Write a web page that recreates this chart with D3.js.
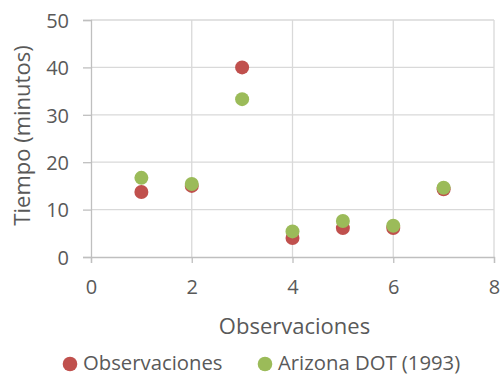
<!DOCTYPE html>
<html>
<head>
<meta charset="utf-8">
<script src="https://cdn.jsdelivr.net/npm/d3@7"></script>
<style>
  html, body { margin: 0; padding: 0; background: #fff; }
  svg text { font-family: "Open Sans", "Liberation Sans", sans-serif; fill: #595959; }
</style>
</head>
<body>
<svg id="chart" width="502" height="375"></svg>
<script>
// Travel time per observation: field observations vs. Arizona DOT (1993) estimate
const observations = [1, 2, 3, 4, 5, 6, 7];
const observedTimes = [13.7, 15.0, 40.0, 4.0, 6.1, 6.1, 14.3];
const arizonaTimes = [16.7, 15.4, 33.3, 5.4, 7.6, 6.6, 14.6];
const xTicks = [0, 2, 4, 6, 8];
const yTicks = [0, 10, 20, 30, 40, 50];
const seriesNames = ["Observaciones", "Arizona DOT (1993)"];
const seriesColors = ["#c0504d", "#9bbb59"];

const svg = d3.select("#chart");
const margin = { left: 91, right: 8, top: 20, bottom: 118 };
const W = 502, H = 375;

const x = d3.scaleLinear().domain([0, 8]).range([margin.left, W - margin.right]);
const y = d3.scaleLinear().domain([0, 50]).range([H - margin.bottom, margin.top]);

// Grid
const grid = svg.append("g");
grid.selectAll("line.h").data(yTicks.filter(d => d > 0)).join("line")
  .attr("x1", x(0)).attr("x2", x(8))
  .attr("y1", d => y(d)).attr("y2", d => y(d))
  .attr("stroke", "#d9d9d9").attr("stroke-width", 1.3);
grid.selectAll("line.v").data(xTicks.filter(d => d > 0)).join("line")
  .attr("y1", y(0)).attr("y2", y(50))
  .attr("x1", d => x(d)).attr("x2", d => x(d))
  .attr("stroke", "#d9d9d9").attr("stroke-width", 1.3);

// Axes
const xAxis = svg.append("g").attr("transform", `translate(0,${y(0)})`)
  .call(d3.axisBottom(x).tickValues(xTicks).tickSize(6).tickPadding(17).tickFormat(d3.format("d")));
const yAxis = svg.append("g").attr("transform", `translate(${x(0)},0)`)
  .call(d3.axisLeft(y).tickValues(yTicks).tickSize(8).tickPadding(14).tickFormat(d3.format("d")));
[xAxis, yAxis].forEach(a => {
  a.select(".domain").attr("stroke", "#bfbfbf").attr("stroke-width", 1.3);
  a.selectAll(".tick line").attr("stroke", "#bfbfbf").attr("stroke-width", 1.3);
  a.selectAll(".tick text").attr("font-size", 20).attr("fill", "#595959")
    .style("font-family", "'Open Sans', sans-serif");
});
yAxis.selectAll(".tick text").attr("dy", "0.36em");

// Points: Arizona DOT drawn over observations
const series = [observedTimes, arizonaTimes];
series.forEach((vals, i) => {
  svg.append("g").selectAll("circle").data(vals).join("circle")
    .attr("cx", (d, j) => x(observations[j]))
    .attr("cy", d => y(d))
    .attr("r", 7)
    .attr("fill", seriesColors[i]);
});

// Axis titles
svg.append("text")
  .attr("x", (x(0) + x(8)) / 2 + 2).attr("y", 334)
  .attr("text-anchor", "middle").attr("font-size", 22)
  .text("Observaciones");
svg.append("text")
  .attr("transform", `translate(30,${(y(0) + y(50)) / 2 - 3}) rotate(-90)`)
  .attr("text-anchor", "middle").attr("font-size", 22)
  .text("Tiempo (minutos)");

// Legend
const legend = svg.append("g");
const legendX = [70, 265];
seriesNames.forEach((name, i) => {
  legend.append("circle").attr("cx", legendX[i]).attr("cy", 364).attr("r", 7.3).attr("fill", seriesColors[i]);
  legend.append("text").attr("x", legendX[i] + 13).attr("y", 369.5)
    .attr("font-size", 20.3).text(name);
});
</script>
</body>
</html>
